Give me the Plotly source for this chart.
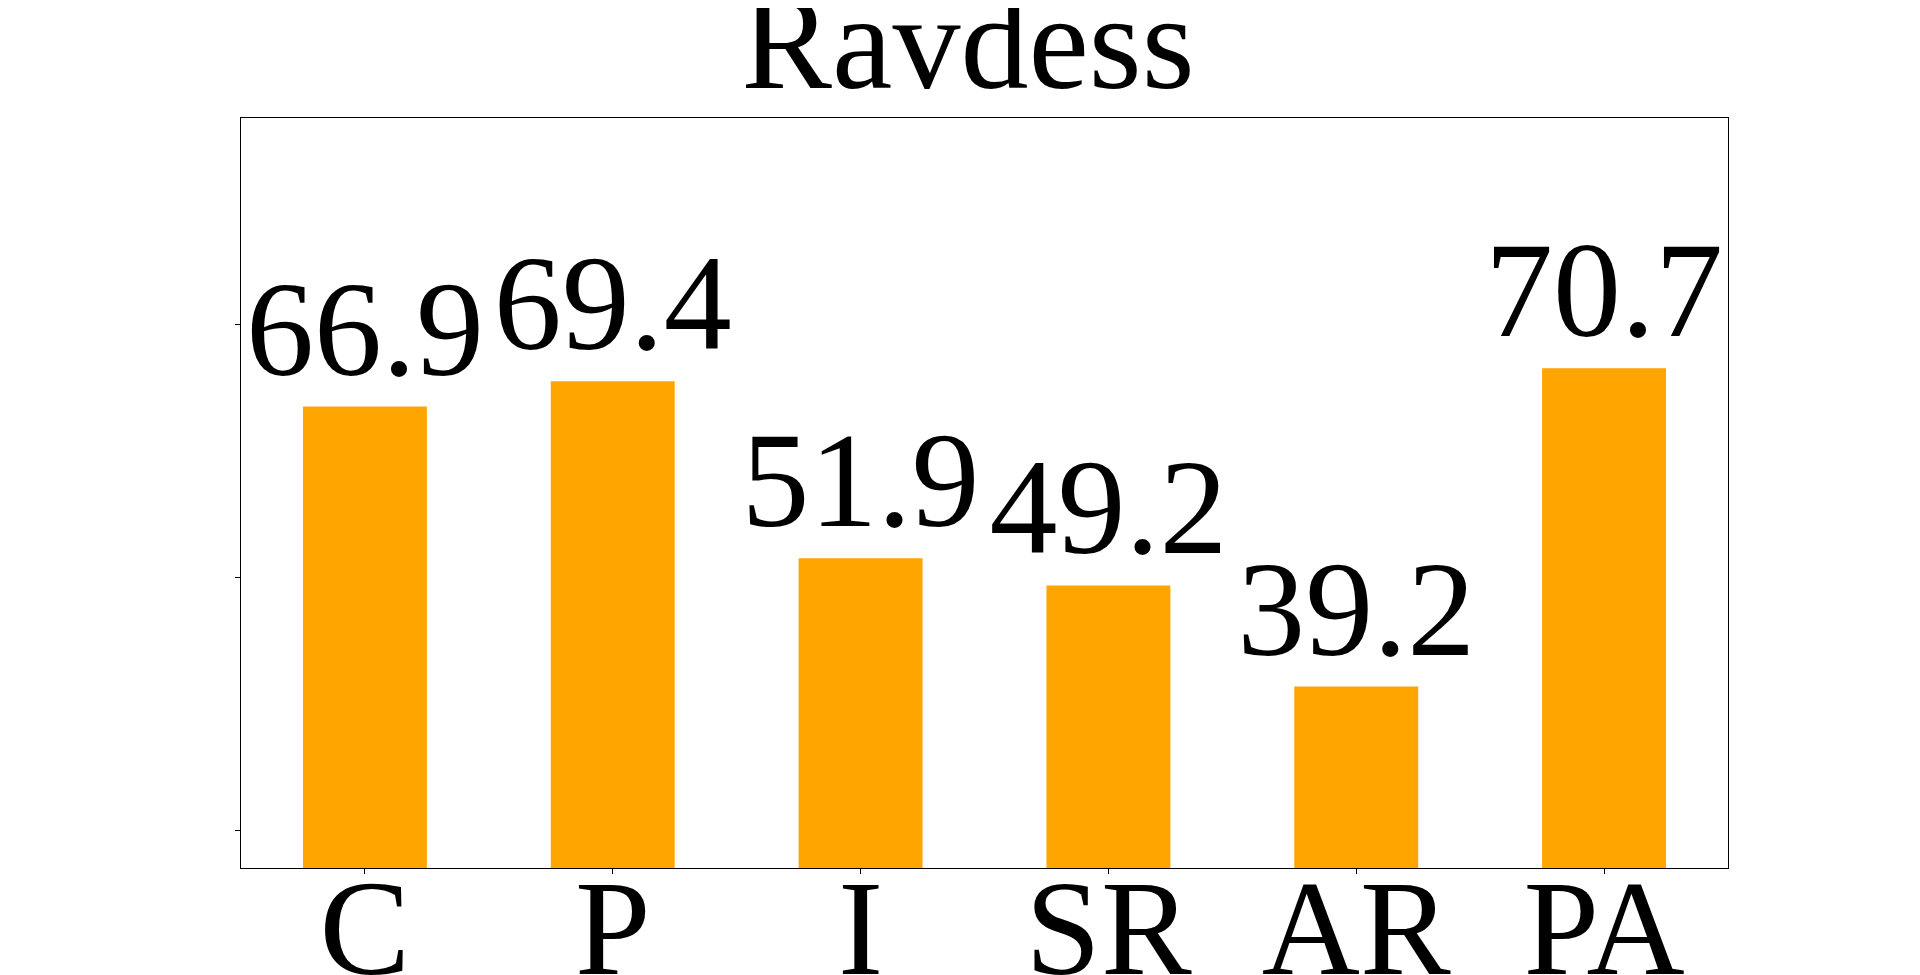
import plotly.graph_objects as go

categories = ['C', 'P', 'I', 'SR', 'AR', 'PA']
scores = [66.9, 69.4, 51.9, 49.2, 39.2, 70.7]
y_ticks = [25, 50, 75]

FONT = 'Liberation Serif, Times New Roman, serif'

fig = go.Figure()
fig.add_trace(go.Bar(
    x=categories, y=scores,
    width=0.5,
    marker=dict(color='orange', line=dict(width=0)),
    text=[f'{v:.1f}' for v in scores],
    textposition='outside',
    constraintext='none',
    cliponaxis=False,
    textfont=dict(family=FONT, size=136, color='black'),
))

# page body has an 8px margin, so offsets are shifted by 8
fig.update_layout(
    width=1920, height=975,
    paper_bgcolor='white', plot_bgcolor='white',
    margin=dict(l=233, r=200, t=110, b=115, autoexpand=False),
    showlegend=False,
    font=dict(family=FONT, color='black'),
    title=dict(text='Ravdess', x=0.5, xanchor='center', xref='container',
               y=1 - 80 / 975, yanchor='bottom', yref='container',
               font=dict(family=FONT, size=136, color='black')),
)
fig.update_xaxes(range=[-0.5, 5.5], showline=True, linecolor='black', linewidth=1.2,
                 mirror=True, ticks='outside', ticklen=5, tickcolor='black', automargin=False,
                 ticklabelstandoff=-63,
                 tickfont=dict(family=FONT, size=136, color='black'), showgrid=False)
fig.update_yaxes(range=[21.24, 95.46], showline=True, linecolor='black', linewidth=1.2,
                 mirror=True, ticks='outside', ticklen=5, tickcolor='black', automargin=False,
                 tickvals=y_ticks, showticklabels=False, showgrid=False, zeroline=False)

fig.write_html('out.html')
